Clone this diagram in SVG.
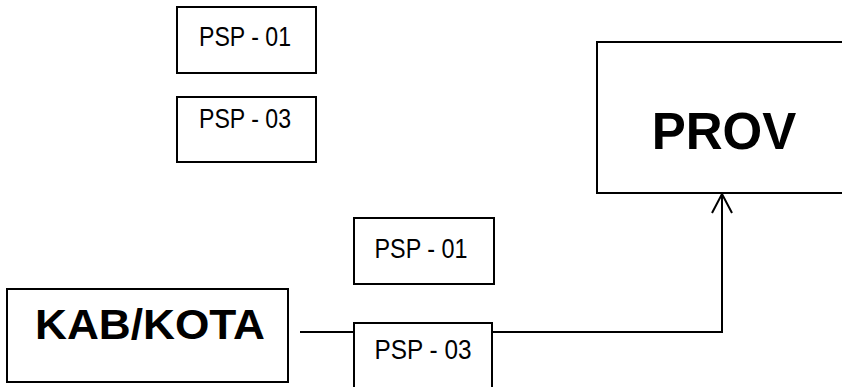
<svg xmlns="http://www.w3.org/2000/svg" width="842" height="387" viewBox="0 0 842 387">
<defs>
<style>
.box{fill:#fff;stroke:#000;stroke-width:2}
.psp{font-family:"Liberation Sans","DejaVu Sans",sans-serif;font-size:27px;fill:#000;text-anchor:middle}
.big{font-family:"Liberation Sans",Arial,sans-serif;font-weight:bold;fill:#000;text-anchor:middle}
.line{fill:none;stroke:#000;stroke-width:2}
</style>
<marker id="arr" viewBox="0 0 22 22" refX="20" refY="11" markerWidth="22" markerHeight="22" markerUnits="userSpaceOnUse" orient="auto">
<path d="M1,1 L20,11 L1,21" fill="none" stroke="#000" stroke-width="2"/>
</marker>
</defs>
<g id="connectors">
<line class="line" x1="300" y1="332" x2="354" y2="332"/>
<path class="line" d="M492,332 H722 V194" marker-end="url(#arr)"/>
</g>
<g id="psp01-top">
<rect class="box" x="177" y="7" width="139" height="66"/>
<text class="psp" x="245" y="46" textLength="92" lengthAdjust="spacingAndGlyphs">PSP - 01</text>
</g>
<g id="psp03-top">
<rect class="box" x="177" y="97" width="139" height="65"/>
<text class="psp" x="245" y="128" textLength="92" lengthAdjust="spacingAndGlyphs">PSP - 03</text>
</g>
<g id="prov">
<rect class="box" x="597" y="42" width="250" height="151"/>
<text class="big" x="724" y="149" font-size="51">PROV</text>
</g>
<g id="psp01-mid">
<rect class="box" x="354" y="218" width="140" height="66"/>
<text class="psp" x="421" y="258" textLength="93" lengthAdjust="spacingAndGlyphs">PSP - 01</text>
</g>
<g id="kabkota">
<rect class="box" x="7" y="289" width="281" height="93"/>
<text class="big" x="150" y="339" font-size="42" textLength="230" lengthAdjust="spacingAndGlyphs">KAB/KOTA</text>
</g>
<g id="psp03-mid">
<rect class="box" x="354" y="323" width="138" height="70"/>
<text class="psp" x="423" y="359" textLength="97" lengthAdjust="spacingAndGlyphs">PSP - 03</text>
</g>
</svg>
